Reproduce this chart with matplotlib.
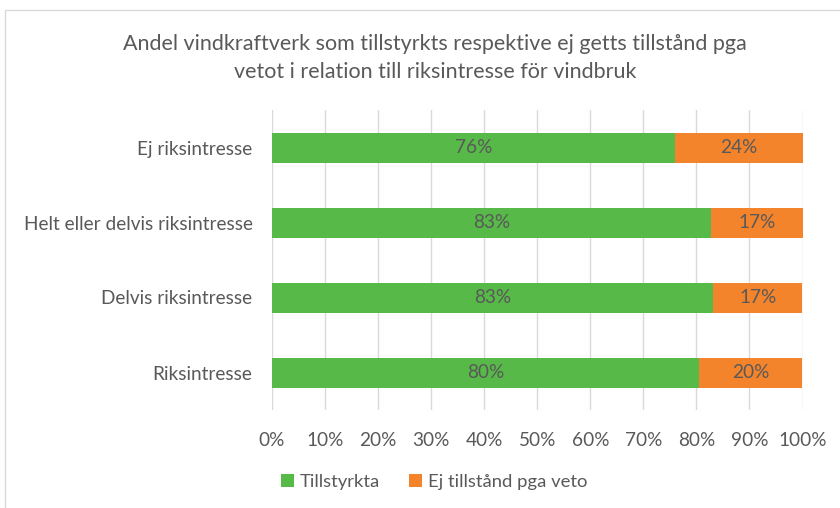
import matplotlib.pyplot as plt
from matplotlib.patches import Rectangle

plt.rcParams['font.family'] = ['Lato', 'DejaVu Sans']

categories = ["Riksintresse", "Delvis riksintresse",
              "Helt eller delvis riksintresse", "Ej riksintresse"]
tillstyrkta = [80.4, 83.1, 82.7, 75.9]
ej_tillstand = [19.6, 16.9, 17.3, 24.1]
series_names = ["Tillstyrkta", "Ej tillstånd pga veto"]
xticks = [0, 10, 20, 30, 40, 50, 60, 70, 80, 90, 100]

green = "#57b947"
orange = "#f3842c"
gray = "#595959"

fig = plt.figure(figsize=(8.4, 5.08), dpi=100)
fig.patches.append(Rectangle((5 / 840, -0.1), 1.1, 1 - 10 / 508 + 0.1,
                             transform=fig.transFigure, fill=False,
                             edgecolor="#d9d9d9", linewidth=1))

ax = fig.add_axes([272 / 840, 1 - 410 / 508, 530.5 / 840, 300 / 508])

y = range(len(categories))
b1 = ax.barh(y, tillstyrkta, height=0.4, color=green, label=series_names[0], zorder=3)
b2 = ax.barh(y, ej_tillstand, left=tillstyrkta, height=0.4, color=orange,
             label=series_names[1], zorder=3)

for bars, vals in ((b1, tillstyrkta), (b2, ej_tillstand)):
    for bar, v in zip(bars, vals):
        ax.text(bar.get_x() + bar.get_width() / 2, bar.get_y() + bar.get_height() / 2,
                f"{v:.0f}%", ha="center", va="center", color=gray, fontsize=13.7, zorder=4)

ax.set_xlim(0, 100)
ax.set_ylim(-0.5, len(categories) - 0.5)
ax.set_xticks(xticks)
ax.set_xticklabels([f"{t}%" for t in xticks])
ax.set_yticks(list(y))
ax.set_yticklabels(categories)
ax.tick_params(axis="both", length=0, colors=gray, labelsize=13.7)
ax.tick_params(axis="x", pad=16)
ax.tick_params(axis="y", pad=14)
ax.grid(axis="x", color="#d9d9d9", linewidth=1, zorder=0)
for s in ax.spines.values():
    s.set_visible(False)

fig.text(435 / 840, 1 - 58 / 508,
         "Andel vindkraftverk som tillstyrkts respektive ej getts tillstånd pga\n"
         "vetot i relation till riksintresse för vindbruk",
         ha="center", va="center", fontsize=15.5, color=gray, linespacing=1.45)

fig.legend(handles=[b1, b2], loc="center", bbox_to_anchor=(434 / 840, 1 - 482 / 508),
           ncol=2, frameon=False, fontsize=13.3, labelcolor=gray,
           handlelength=0.7, handleheight=0.7, handletextpad=0.3, columnspacing=1.6)

fig.savefig("out.png", dpi=100)
